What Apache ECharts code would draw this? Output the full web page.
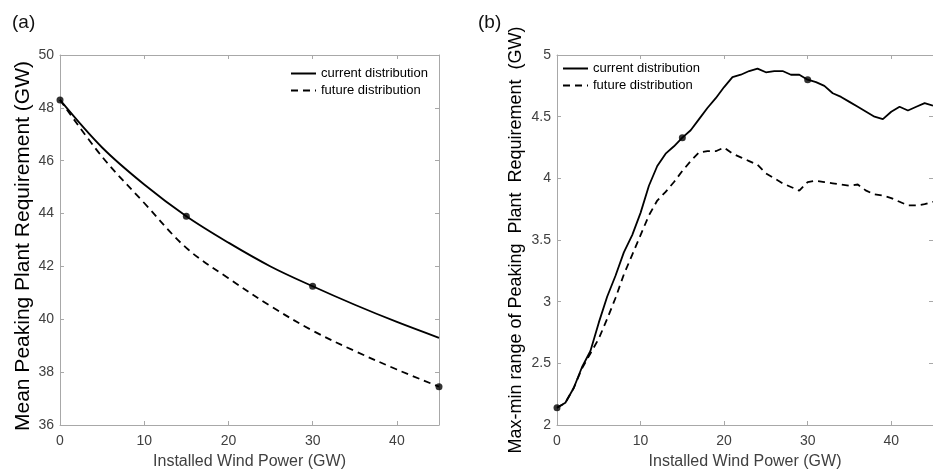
<!DOCTYPE html>
<html><head><meta charset="utf-8">
<script src="https://cdn.jsdelivr.net/npm/echarts@6/dist/echarts.min.js"></script>
<style>html,body{margin:0;padding:0;background:#fff}#c{width:933px;height:475px}</style>
</head><body><div id="c"></div>
<script>
// ---- Data: panel (a) ----
const windA = [0, 5, 10, 15, 20, 25, 30, 35, 40, 45];
const meanCurrent = [48.3, 46.5, 45.1, 43.9, 42.9, 42.0, 41.25, 40.55, 39.9, 39.3];
const meanFuture  = [48.3, 46.15, 44.4, 42.7, 41.55, 40.5, 39.57, 38.8, 38.1, 37.45];
const meanCurrentMarkAt = [0, 15, 30];
const meanFutureMarkAt = [45];
// ---- Data: panel (b) ----
const windB = [0,1,2,3,4,5,6,7,8,9,10,11,12,13,14,15,16,17,18,19,20,21,22,23,24,25,26,27,28,29,30,31,32,33,34,35,36,37,38,39,40,41,42,43,44,45];
const rangeCurrent = [2.14,2.18,2.30,2.47,2.60,2.83,3.04,3.21,3.40,3.54,3.72,3.94,4.10,4.20,4.26,4.33,4.39,4.48,4.57,4.65,4.74,4.82,4.84,4.87,4.89,4.86,4.87,4.87,4.84,4.84,4.80,4.78,4.75,4.69,4.66,4.62,4.58,4.54,4.50,4.48,4.54,4.58,4.55,4.58,4.61,4.59];
const rangeFuture  = [2.14,2.18,2.30,2.46,2.58,2.70,2.86,3.03,3.22,3.38,3.54,3.70,3.82,3.89,3.97,4.06,4.14,4.21,4.22,4.22,4.25,4.20,4.17,4.14,4.11,4.04,4.00,3.96,3.93,3.90,3.97,3.98,3.97,3.96,3.95,3.94,3.95,3.90,3.87,3.86,3.84,3.81,3.78,3.78,3.79,3.81];
const rangeCurrentMarkAt = [0, 15, 30];
// ---- Texts ----
const seriesNames = ['current distribution', 'future distribution'];
const panelLabels = ['(a)', '(b)'];
const xName = 'Installed Wind Power (GW)';
const yNameA = 'Mean Peaking Plant Requirement (GW)';
const yNameB = 'Max-min range of Peaking  Plant  Requirement  (GW)';

const FONT = "'Liberation Sans', Arial, Helvetica, sans-serif";
const AXC = '#a8a8a8';
const LBC = '#404040';

function pairs(xs, ys) { return xs.map((x, i) => [x, ys[i]]); }
function picks(xs, ys, at) { return xs.map((x, i) => [x, ys[i]]).filter(p => at.indexOf(p[0]) >= 0); }

function xAx(grid, pos, showLab) {
  return {
    type: 'value', gridIndex: grid, position: pos, min: 0, max: 45, interval: 10,
    axisLine: { show: true, onZero: false, lineStyle: { color: AXC, width: 1 } },
    axisTick: { show: true, inside: true, length: 4, lineStyle: { color: AXC } },
    axisLabel: { show: showLab, showMaxLabel: false, color: LBC, fontSize: 14, fontFamily: FONT, margin: 9 },
    splitLine: { show: false },
    name: showLab ? xName : '', nameLocation: 'middle', nameGap: 29,
    nameTextStyle: { color: LBC, fontSize: 16, fontFamily: FONT }
  };
}
function yAx(grid, pos, showLab, min, max, interval, name, nameSize, nameGap, namePad) {
  return {
    type: 'value', gridIndex: grid, position: pos, min: min, max: max, interval: interval,
    axisLine: { show: true, onZero: false, lineStyle: { color: AXC, width: 1 } },
    axisTick: { show: true, inside: true, length: 4, lineStyle: { color: AXC } },
    axisLabel: { show: showLab, color: LBC, fontSize: 14, fontFamily: FONT, margin: 6 },
    splitLine: { show: false },
    name: showLab ? name : '', nameLocation: 'middle', nameGap: nameGap,
    nameTextStyle: { color: '#000', fontSize: nameSize, fontFamily: FONT, padding: namePad }
  };
}

const solid = { color: '#000', width: 1.8, type: 'solid' };
const dashed = { color: '#000', width: 1.8, type: [7, 5] };

function lineSeries(name, xi, data, ls, smooth) {
  return { type: 'line', name: name, xAxisIndex: xi, yAxisIndex: xi, data: data,
    symbol: 'none', smooth: smooth, lineStyle: ls, itemStyle: { color: '#000' }, z: 3, silent: true };
}
function markSeries(xi, data) {
  return { type: 'scatter', xAxisIndex: xi, yAxisIndex: xi, data: data, symbol: 'circle',
    symbolSize: 7, itemStyle: { color: '#000' }, z: 4, silent: true };
}
function legendAt(left, top) {
  return { orient: 'vertical', left: left, top: top, padding: 0, itemWidth: 25, itemHeight: 13, itemGap: 4,
    data: seriesNames, selectedMode: false,
    itemStyle: { color: 'rgba(0,0,0,0)', borderWidth: 0, opacity: 0 },
    textStyle: { color: '#000', fontSize: 13, fontFamily: FONT } };
}

const option = {
  animation: false,
  backgroundColor: '#fff',
  textStyle: { fontFamily: FONT },
  title: [
    { text: panelLabels[0], left: 7, top: 8, textStyle: { fontSize: 19, fontWeight: 'normal', color: '#111', fontFamily: FONT } },
    { text: panelLabels[1], left: 473, top: 8, textStyle: { fontSize: 19, fontWeight: 'normal', color: '#111', fontFamily: FONT } }
  ],
  grid: [
    { left: 60, top: 55, width: 379, height: 378 },
    { left: 557, top: 55, width: 378, height: 378 }
  ],
  legend: [ legendAt(290, 67), legendAt(562, 62) ],
  xAxis: [ xAx(0, 'bottom', true), xAx(0, 'top', false), xAx(1, 'bottom', true), xAx(1, 'top', false) ],
  yAxis: [
    yAx(0, 'left', true, 36, 50, 2, yNameA, 21, 26, [0, 12, 0, 0]),
    yAx(0, 'right', false, 36, 50, 2, '', 21, 26, 0),
    yAx(1, 'left', true, 2, 5, 0.5, yNameB, 18, 32, 0),
    yAx(1, 'right', false, 2, 5, 0.5, '', 18, 32, 0)
  ],
  series: [
    lineSeries(seriesNames[0], 0, pairs(windA, meanCurrent), solid, 0.35),
    lineSeries(seriesNames[1], 0, pairs(windA, meanFuture), dashed, 0.35),
    markSeries(0, picks(windA, meanCurrent, meanCurrentMarkAt)),
    markSeries(0, picks(windA, meanFuture, meanFutureMarkAt)),
    lineSeries(seriesNames[0], 2, pairs(windB, rangeCurrent), solid, false),
    lineSeries(seriesNames[1], 2, pairs(windB, rangeFuture), dashed, false),
    markSeries(2, picks(windB, rangeCurrent, rangeCurrentMarkAt))
  ]
};
const chart = echarts.init(document.getElementById('c'), null, { renderer: 'canvas' });
chart.setOption(option);
</script></body></html>
